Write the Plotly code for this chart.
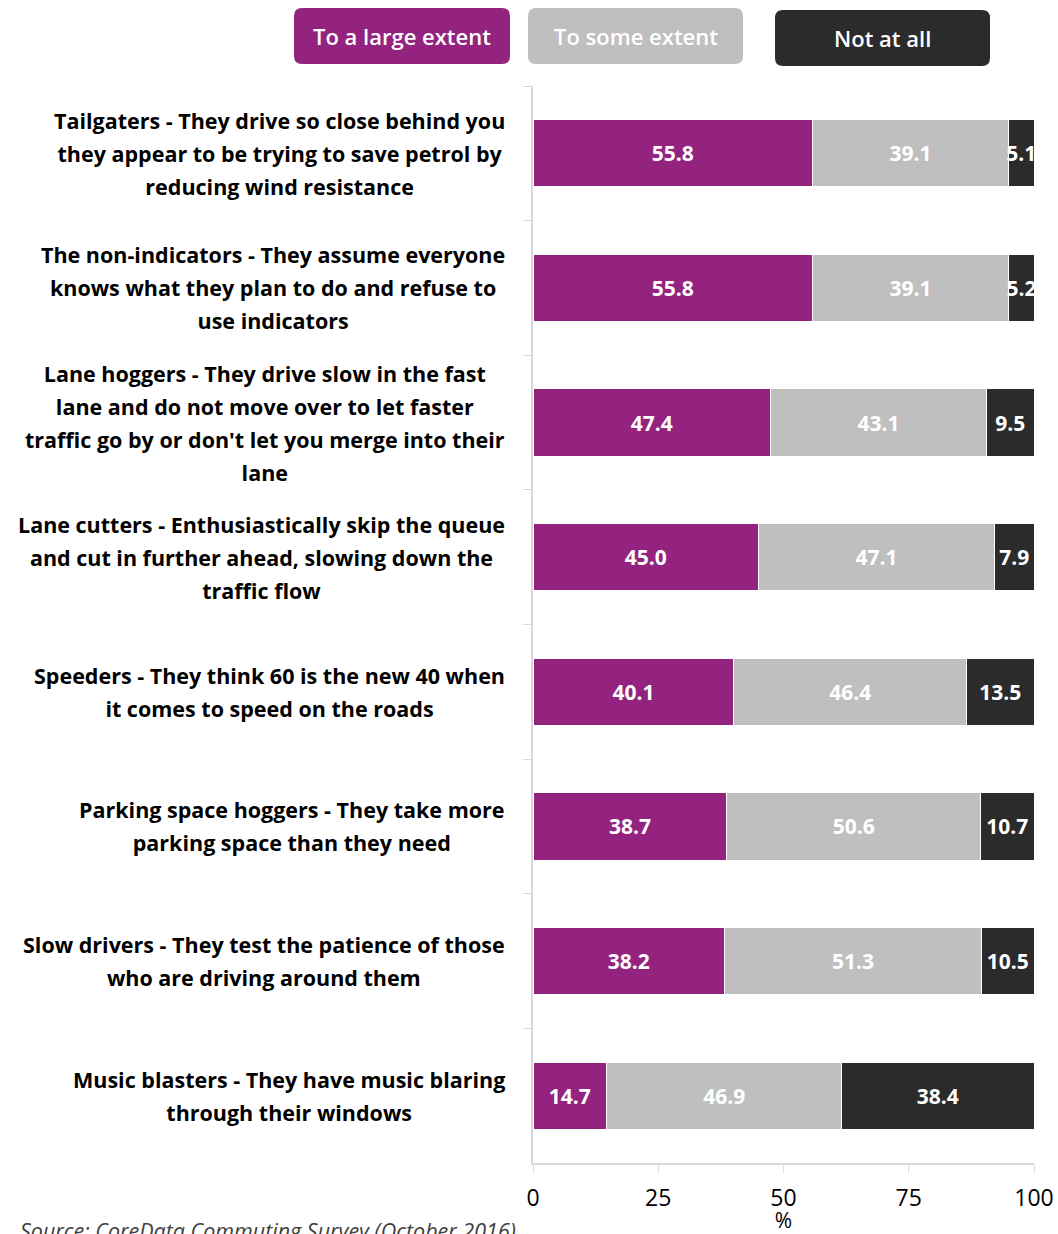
import plotly.graph_objects as go

categories = [
    "Tailgaters - They drive so close behind you<br>they appear to be trying to save petrol by<br>reducing wind resistance",
    "The non-indicators - They assume everyone<br>knows what they plan to do and refuse to<br>use indicators",
    "Lane hoggers - They drive slow in the fast<br>lane and do not move over to let faster<br>traffic go by or don't let you merge into their<br>lane",
    "Lane cutters - Enthusiastically skip the queue<br>and cut in further ahead, slowing down the<br>traffic flow",
    "Speeders - They think 60 is the new 40 when<br>it comes to speed on the roads",
    "Parking space hoggers - They take more<br>parking space than they need",
    "Slow drivers - They test the patience of those<br>who are driving around them",
    "Music blasters - They have music blaring<br>through their windows",
]
large = [55.8, 55.8, 47.4, 45.0, 40.1, 38.7, 38.2, 14.7]
some = [39.1, 39.1, 43.1, 47.1, 46.4, 50.6, 51.3, 46.9]
notatall = [5.1, 5.2, 9.5, 7.9, 13.5, 10.7, 10.5, 38.4]
series_names = ["To a large extent", "To some extent", "Not at all"]
x_ticks = [0, 25, 50, 75, 100]

colors = ["#93237E", "#BFBFBF", "#2B2B2B"]
W, H = 1058, 1234
L, R, T, B = 533, 1034, 86, 1163
FONT = "Open Sans"
LABEL_SIZE = 21.5
LINE_GAP = 33  # px between label lines

fig = go.Figure()
for name, vals, col in zip(series_names, [large, some, notatall], colors):
    fig.add_trace(go.Bar(
        y=categories, x=vals, name=name, orientation="h",
        marker=dict(color=col, line=dict(color="#ffffff", width=1)),
        text=[f"{v:.1f}" for v in vals], textposition="inside",
        insidetextanchor="middle", constraintext="none", textangle=0,
        textfont=dict(family=FONT, size=21, color="white", weight="bold"),
        cliponaxis=True, width=0.5,
    ))


def px2paper(px, py):
    return (px - L) / (R - L), (B - py) / (B - T)


def rounded(x0, y0, x1, y1, r):
    def P(x, y):
        a, b = px2paper(x, y)
        return f"{a:.5f},{b:.5f}"
    return (f"M {P(x0 + r, y0)} L {P(x1 - r, y0)} Q {P(x1, y0)} {P(x1, y0 + r)} "
            f"L {P(x1, y1 - r)} Q {P(x1, y1)} {P(x1 - r, y1)} "
            f"L {P(x0 + r, y1)} Q {P(x0, y1)} {P(x0, y1 - r)} "
            f"L {P(x0, y0 + r)} Q {P(x0, y0)} {P(x0 + r, y0)} Z")


fig.update_layout(
    width=W, height=H, barmode="stack", showlegend=False,
    margin=dict(l=L, r=W - R, t=T, b=H - B, pad=0),
    plot_bgcolor="white", paper_bgcolor="white",
    font=dict(family=FONT, color="#000000"),
    xaxis=dict(range=[0, 100], tickvals=x_ticks, ticks="outside", ticklen=8,
               tickcolor="#d9d9d9", showgrid=False, zeroline=False, automargin=False,
               showline=True, linecolor="#d9d9d9", linewidth=1.5,
               tickfont=dict(family=FONT, size=23, color="#000000"),
               ticklabelstandoff=6,
               title=dict(text="%", font=dict(family=FONT, size=21), standoff=5)),
    yaxis=dict(autorange="reversed", showticklabels=False, ticks="outside",
               tickson="boundaries", ticklen=8, tickcolor="#d9d9d9", automargin=False,
               showline=True, linecolor="#d9d9d9", linewidth=1.5, showgrid=False),
)

# Category labels: right-aligned blocks, lines centred within each block.
# Base font size sets the line spacing (1.3 em); inner spans set glyph size.
BLOCK_RIGHT = 507
for c in categories:
    styled = "<br>".join(f'<span style="font-size:{LABEL_SIZE}px">{s}</span>'
                         for s in c.split("<br>"))
    fig.add_annotation(
        x=px2paper(BLOCK_RIGHT, 0)[0], xref="paper", y=c, yref="y",
        xanchor="right", yanchor="middle", text=styled, showarrow=False,
        align="center",
        font=dict(family=FONT, size=LINE_GAP / 1.3, color="#000000", weight="bold"),
    )

boxes = [(294, 8, 510, 64), (528, 8, 743, 64), (775, 10, 990, 66)]
for (x0, y0, x1, y1), name, col in zip(boxes, series_names, colors):
    fig.add_shape(type="path", xref="paper", yref="paper",
                  path=rounded(x0, y0, x1, y1, 8), fillcolor=col,
                  line=dict(width=0), layer="above")
    cx, cy = px2paper((x0 + x1) / 2, (y0 + y1) / 2)
    fig.add_annotation(x=cx, y=cy, xref="paper", yref="paper", text=name,
                       showarrow=False, xanchor="center", yanchor="middle",
                       font=dict(family=FONT, size=22, color="white", weight=600))

sx, sy = px2paper(18, 1230)
fig.add_annotation(x=sx, y=sy, xref="paper", yref="paper", xanchor="left",
                   yanchor="middle", showarrow=False,
                   text="Source: CoreData Commuting Survey (October 2016)",
                   font=dict(family=FONT, size=21.5, color="#404040", style="italic"))

fig.write_html("out.html", config={"displayModeBar": False},
               post_script="document.body.style.margin='0';document.body.style.overflow='hidden';")
